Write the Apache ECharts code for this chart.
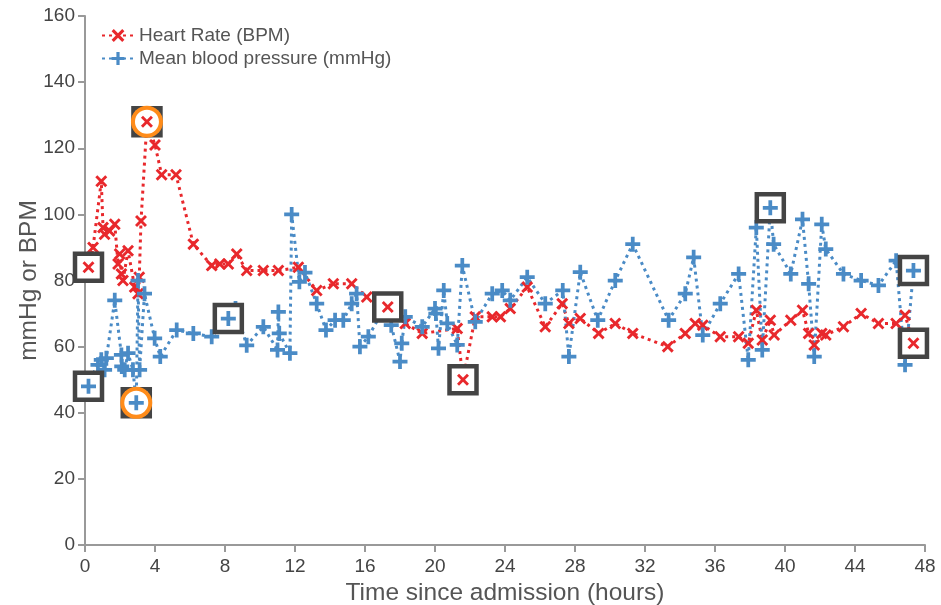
<!DOCTYPE html>
<html>
<head>
<meta charset="utf-8">
<script src="https://cdn.jsdelivr.net/npm/echarts@6/dist/echarts.min.js"></script>
<style>
html,body{margin:0;padding:0;background:#fff;}
#chart{width:941px;height:605px;}
</style>
</head>
<body>
<div id="chart"></div>
<script>
// ---- data ----
const hrTimes = [0.2,0.3,0.46,0.93,1.03,1.12,1.4,1.7,1.89,1.98,2.08,2.17,2.46,2.84,3.03,3.1,3.2,3.54,4.0,4.38,5.2,6.19,7.24,7.7,8.19,8.67,9.24,10.19,11.05,12.19,13.24,14.19,15.24,16.1,17.3,18.3,19.27,21.27,21.6,22.3,23.27,23.74,24.3,25.27,26.3,27.27,27.65,28.3,29.35,30.3,31.3,33.3,34.3,34.87,35.3,36.3,37.35,37.9,38.36,38.7,39.16,39.38,40.33,41.0,41.35,41.67,42.1,42.33,43.34,44.35,45.34,46.35,46.86,47.34];
const hrValues = [84,85,90,110,96,94,95,97,85,88,82,80,89,78,76,81,98,128,121,112,112,91,84.5,85,85,88,83,83,83,84,77,79,79,75,72,67,64,65.5,50,69,69,69,71.5,78,66,73,67,68.5,64,67,64,60,64,67,66.5,63,63,61,71,62,68,63.5,68,71,64,60.5,64,63.5,66,70,67,67,69.5,61];
const bpTimes = [0.2,0.27,0.74,0.93,1.12,1.22,1.7,2.08,2.1,2.27,2.46,2.74,2.93,3.03,3.12,3.4,3.98,4.3,5.24,6.19,7.24,8.19,8.6,9.24,10.19,11.0,11.05,11.1,11.71,11.81,12.25,12.57,13.24,13.77,14.29,14.76,15.24,15.52,15.71,16.19,17.3,17.5,18.0,18.1,18.3,19.27,20.0,20.05,20.2,20.5,20.7,21.27,21.56,22.3,23.27,23.84,24.3,25.27,26.3,27.3,27.65,28.3,29.3,30.3,31.3,33.35,34.3,34.78,35.3,36.3,37.35,37.9,38.36,38.7,39.16,39.35,40.33,41.0,41.35,41.67,42.1,42.33,43.34,44.35,45.34,46.35,46.86,47.34];
const bpValues = [48,50,54.5,56,53,56.5,74,57.5,54,53,58,53,43,80,53,76,62.5,57,65,64,63,68.5,71.5,60.4,66,59,70.5,64,58,100,79.6,82.4,73,65,68,68,73,76,60,63,73.5,66.5,55.5,61,69,66,71.5,70,59.5,77,67,60.5,84.5,67.5,76,77,74,81,73,77,57,82.5,68,80,91,68,76,87,63.5,73,82,56,96,59,102,91,82,98.5,79,57,97,89.5,82,80,78.5,86,54.5,83];
const hrBoxedIdx = [0,17,34,38,73];
const hrCircledIdx = [17];
const bpBoxedIdx = [0,12,21,74,87];
const bpCircledIdx = [12];
const xTicks = [0,48,4];   // min, max, interval
const yTicks = [0,160,20];

const hrData = hrTimes.map((t,i)=>[t,hrValues[i]]);
const bpData = bpTimes.map((t,i)=>[t,bpValues[i]]);
const pick = (data, idx) => idx.map(i => data[i]);

const RED = '#e8282c';
const BLUE = '#4a8bc6';
const XSYM = 'path://M0,1.7L1.7,0L5,3.3L8.3,0L10,1.7L6.7,5L10,8.3L8.3,10L5,6.7L1.7,10L0,8.3L3.3,5Z';
const PSYM = 'path://M4.5,0H7.5V4.5H12V7.5H7.5V12H4.5V7.5H0V4.5H4.5Z';
const XS = 12, PS = 15;

const chart = echarts.init(document.getElementById('chart'), null, {renderer:'canvas'});
const font = 'Liberation Sans, Arial, sans-serif';
chart.setOption({
  animation:false,
  backgroundColor:'#fff',
  textStyle:{fontFamily:font},
  grid:{left:85,right:16,top:16,bottom:60, containLabel:false, outerBoundsMode:'none'},
  legend:{
    left:96, top:21, orient:'vertical', itemGap:4, itemWidth:32, itemHeight:16,
    textStyle:{fontSize:19, color:'#555', fontFamily:font},
    data:['Heart Rate (BPM)','Mean blood pressure (mmHg)']
  },
  xAxis:{
    type:'value', min:xTicks[0], max:xTicks[1], interval:xTicks[2],
    name:'Time since admission (hours)', nameLocation:'middle', nameGap:33,
    nameTextStyle:{fontSize:24.5, color:'#555', fontFamily:font},
    axisLine:{show:true, lineStyle:{color:'#999', width:2}},
    axisTick:{show:true, length:7, lineStyle:{color:'#999', width:2}},
    axisLabel:{fontSize:19, color:'#444', margin:12, fontFamily:font},
    splitLine:{show:false}
  },
  yAxis:{
    type:'value', min:yTicks[0], max:yTicks[1], interval:yTicks[2],
    name:'mmHg or BPM', nameLocation:'middle', nameGap:43, nameMoveOverlap:false,
    nameTextStyle:{fontSize:24.5, color:'#555', fontFamily:font},
    axisLine:{show:true, lineStyle:{color:'#999', width:2}},
    axisTick:{show:true, length:7, lineStyle:{color:'#999', width:2}},
    axisLabel:{fontSize:19, color:'#444', margin:10, fontFamily:font},
    splitLine:{show:false}
  },
  series:[
    {
      name:'Heart Rate (BPM)', type:'line', data:hrData, z:2,
      symbol:XSYM, symbolSize:XS, showAllSymbol:true,
      itemStyle:{color:RED, opacity:1},
      lineStyle:{color:RED, width:3, type:[3,4]}
    },
    {
      name:'Mean blood pressure (mmHg)', type:'line', data:bpData, z:2,
      symbol:PSYM, symbolSize:PS, showAllSymbol:true,
      itemStyle:{color:BLUE, opacity:1},
      lineStyle:{color:BLUE, width:3, type:[3,4]}
    },
    {
      type:'scatter', z:3, silent:true,
      data:pick(hrData,hrBoxedIdx).concat(pick(bpData,bpBoxedIdx)),
      symbol:'rect', symbolSize:27,
      itemStyle:{color:'#fff', borderColor:'#444', borderWidth:4.5, opacity:1}
    },
    {
      type:'scatter', z:4, silent:true,
      data:pick(hrData,hrCircledIdx).concat(pick(bpData,bpCircledIdx)),
      symbol:'circle', symbolSize:28,
      itemStyle:{color:'#fff', borderColor:'#ff8c1a', borderWidth:4, opacity:1}
    },
    {
      type:'scatter', z:5, silent:true,
      data:pick(hrData,hrBoxedIdx),
      symbol:XSYM, symbolSize:XS, itemStyle:{color:RED, opacity:1}
    },
    {
      type:'scatter', z:5, silent:true,
      data:pick(bpData,bpBoxedIdx),
      symbol:PSYM, symbolSize:PS, itemStyle:{color:BLUE, opacity:1}
    }
  ]
});
</script>
</body>
</html>
